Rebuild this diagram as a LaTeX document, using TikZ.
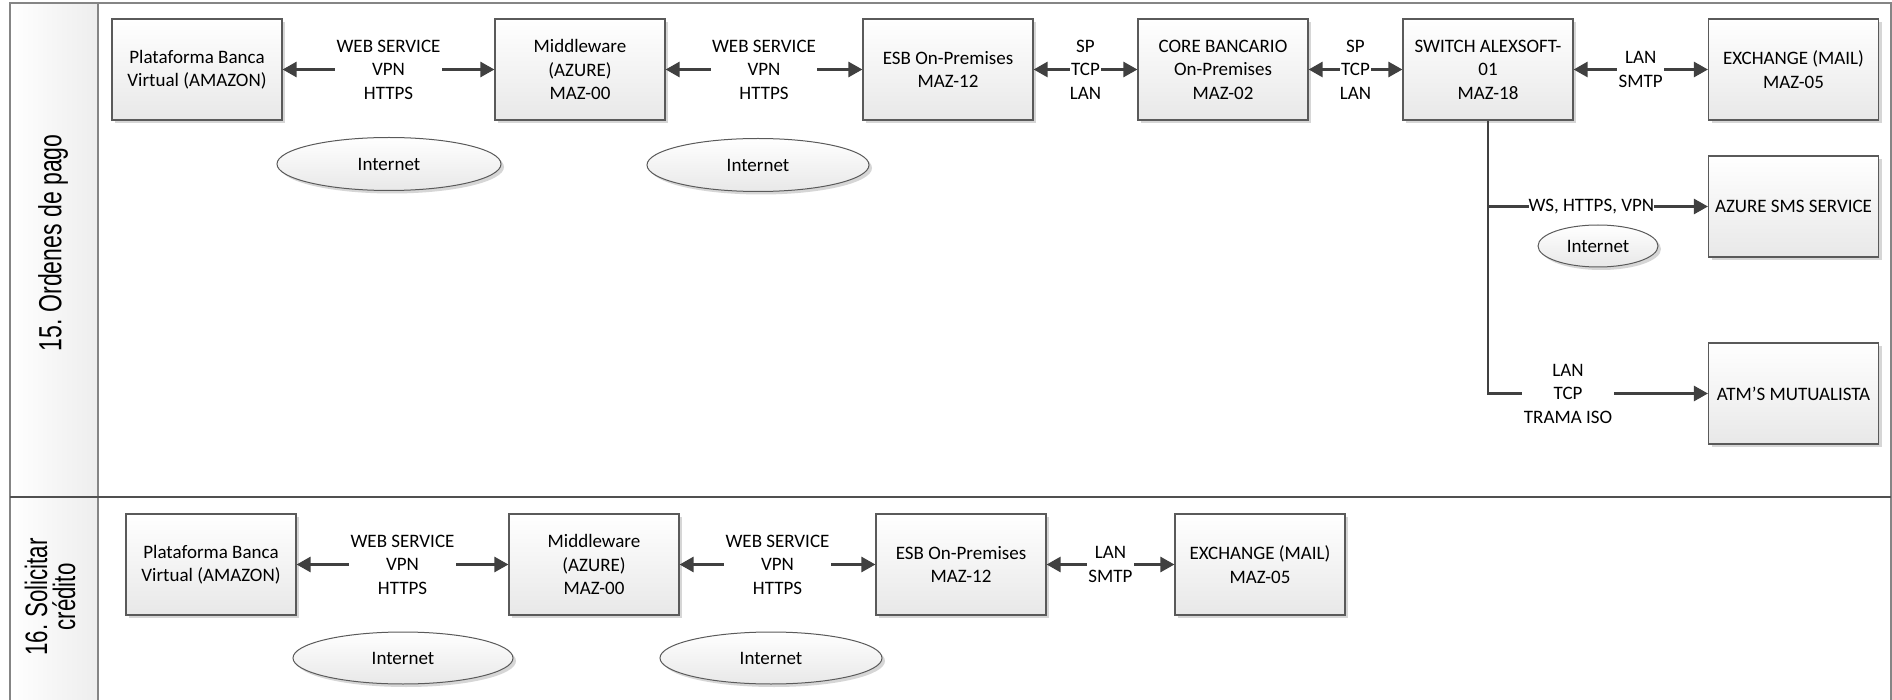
\documentclass[tikz,border=0pt]{standalone}
\usepackage{fontspec}
\usepackage{graphicx}
\setmainfont{Carlito}
\newfontfamily\hdrfont{Liberation Sans}
\usetikzlibrary{arrows.meta,shapes.geometric,shadows,calc}

\definecolor{frameline}{HTML}{858585}
\definecolor{laneline}{HTML}{505050}
\definecolor{boxline}{HTML}{5A5A5A}
\definecolor{wire}{HTML}{404040}
\definecolor{boxlow}{HTML}{E8E8E8}
\definecolor{shadowgray}{HTML}{D6D6D6}

\begin{document}
\begin{tikzpicture}[x=1pt,y=-1pt,
  every node/.style={font=\fontsize{19}{23.5}\selectfont},
  boxshadow/.style={drop shadow={shadow xshift=3pt,shadow yshift=-3pt,fill=shadowgray,opacity=1}},
  device/.style={draw=boxline,line width=1.2pt,top color=white,bottom color=boxlow,
    minimum width=170pt,minimum height=101pt,inner sep=2pt,align=center,boxshadow},
  cloud/.style={ellipse,draw=boxline,line width=1pt,top color=white,bottom color=boxlow,
    inner sep=0pt,boxshadow},
  tipshape/.tip={Triangle[length=14pt,width=15pt]},
  link/.style={draw=wire,line width=2.7pt,-tipshape},
  bilink/.style={draw=wire,line width=2.7pt,tipshape-tipshape},
  proto/.style={fill=white,inner xsep=1.5pt,inner ysep=1pt,align=center},
  lanetitle/.style={rotate=90,align=center,inner sep=0pt}
]
\useasboundingbox (0,0) rectangle (1892,700);
\fill[white] (0,0) rectangle (1892,700);

% swimlane frame
\fill[left color=white,right color=black!7] (10,3) rectangle (98,700);
\draw[frameline,line width=1.3pt] (10,701) -- (10,3) -- (1891,3) -- (1891,701);
\draw[frameline,line width=1.3pt] (98,3) -- (98,701);
\draw[laneline,line width=1.3pt] (10,497) -- (1891,497);

\node[lanetitle,font=\hdrfont\fontsize{32}{28}\selectfont] (lane15) at (53,243)
  {\scalebox{0.72}[1]{15.\kern-2pt{} Ordenes de pago}};
\node[lanetitle,font=\hdrfont\fontsize{31}{28}\selectfont] (lane16) at (50,597)
  {\scalebox{0.72}[1]{16.\kern-2pt{} Solicitar}\\\scalebox{0.72}[1]{crédito}};

% lane 15: payment orders
\node[device] (p1) at (197,69.5) {Plataforma Banca\\Virtual (AMAZON)};
\node[device] (m1) at (580,69.5) {Middleware\\(AZURE)\\MAZ-00};
\node[device] (e1) at (948,69.5) {ESB On-Premises\\MAZ-12};
\node[device] (c1) at (1223,69.5) {CORE BANCARIO\\On-Premises\\MAZ-02};
\node[device] (s1) at (1488,69.5) {SWITCH ALEXSOFT-\\01\\MAZ-18};
\node[device] (x1) at (1793.5,69.5) {EXCHANGE (MAIL)\\MAZ-05};
\node[device] (sms) at (1793.5,206.5) {AZURE SMS SERVICE};
\node[device] (atm) at (1793.5,393.5) {ATM’S MUTUALISTA};

\node[cloud,minimum width=224pt,minimum height=53pt] (i1) at (389,164) {Internet};
\node[cloud,minimum width=222pt,minimum height=53pt] (i2) at (758,165) {Internet};
\node[cloud,minimum width=120pt,minimum height=42pt] (i3) at (1598,246) {Internet};

\draw[bilink] (p1) -- (m1) node[proto,midway] (w1) {WEB SERVICE\\VPN\\HTTPS};
\draw[bilink] (m1) -- (e1) node[proto,midway] (w2) {WEB SERVICE\\VPN\\HTTPS};
\draw[bilink] (e1) -- (c1) node[proto,midway,inner xsep=0pt] (w3) {SP\\TCP\\LAN};
\draw[bilink] (c1) -- (s1) node[proto,midway,inner xsep=0pt] (w4) {SP\\TCP\\LAN};
\draw[bilink] (s1) -- (x1) node[proto,midway] (w5) {LAN\\SMTP};

\coordinate (tap) at (s1.south |- sms.west);
\draw[link,line join=miter] (s1.south) |- (atm.west)
  node[proto,pos=0.682] (w7) {LAN\\TCP\\TRAMA ISO};
\draw[link] (tap) -- (sms.west) node[proto,pos=0.47,inner xsep=0pt] (w6) {WS, HTTPS, VPN};

% lane 16: credit request
\node[device] (p2) at (211,564.5) {Plataforma Banca\\Virtual (AMAZON)};
\node[device] (m2) at (594,564.5) {Middleware\\(AZURE)\\MAZ-00};
\node[device] (e2) at (961,564.5) {ESB On-Premises\\MAZ-12};
\node[device] (x2) at (1260,564.5) {EXCHANGE (MAIL)\\MAZ-05};

\node[cloud,minimum width=220pt,minimum height=52pt] (i4) at (403,658) {Internet};
\node[cloud,minimum width=222pt,minimum height=52pt] (i5) at (771,658) {Internet};

\draw[bilink] (p2) -- (m2) node[proto,midway] (v1) {WEB SERVICE\\VPN\\HTTPS};
\draw[bilink] (m2) -- (e2) node[proto,midway] (v2) {WEB SERVICE\\VPN\\HTTPS};
\draw[bilink] (e2) -- (x2) node[proto,midway] (v3) {LAN\\SMTP};
\end{tikzpicture}
\end{document}
